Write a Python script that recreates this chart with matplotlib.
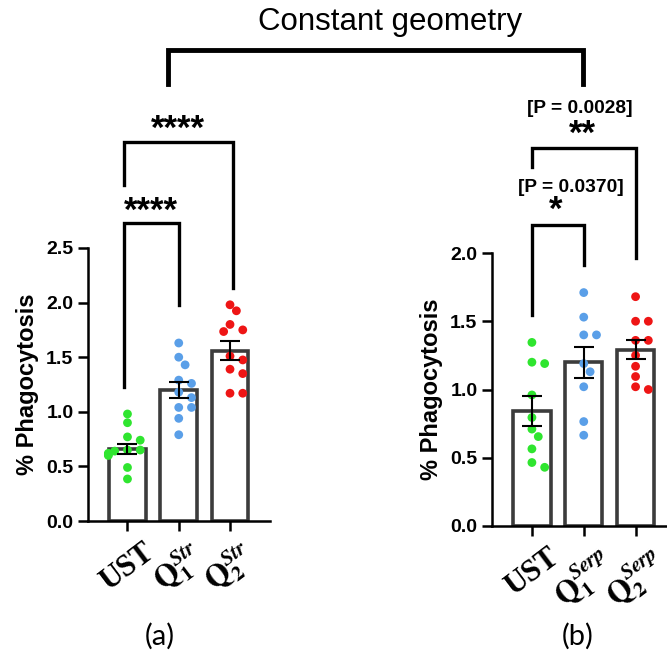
import numpy as np
import matplotlib
matplotlib.use("Agg")
import matplotlib.pyplot as plt

plt.rcParams['font.family'] = ['Liberation Sans', 'DejaVu Sans']
plt.rcParams['mathtext.fontset'] = 'stix'

# --- data ---
groups_a = ['UST', r'$\mathbf{Q}_{\mathbf{1}}^{\mathbfit{Str}}$', r'$\mathbf{Q}_{\mathbf{2}}^{\mathbfit{Str}}$']
groups_b = ['UST', r'$\mathbf{Q}_{\mathbf{1}}^{\mathbfit{Serp}}$', r'$\mathbf{Q}_{\mathbf{2}}^{\mathbfit{Serp}}$']

means_a = [0.66, 1.20, 1.56]
sem_a = [0.045, 0.07, 0.085]
pts_a = [
    [0.98, 0.90, 0.77, 0.74, 0.65, 0.65, 0.64, 0.62, 0.61, 0.60, 0.49, 0.385],
    [1.63, 1.50, 1.43, 1.29, 1.26, 1.18, 1.13, 1.04, 1.04, 0.94, 0.79],
    [1.98, 1.925, 1.80, 1.75, 1.735, 1.51, 1.475, 1.39, 1.35, 1.17, 1.17],
]

means_b = [0.84, 1.20, 1.29]
sem_b = [0.11, 0.115, 0.07]
pts_b = [
    [1.345, 1.20, 1.19, 0.96, 0.795, 0.71, 0.655, 0.565, 0.465, 0.43],
    [1.71, 1.53, 1.40, 1.40, 1.19, 1.13, 1.02, 0.765, 0.665],
    [1.68, 1.50, 1.50, 1.36, 1.36, 1.25, 1.17, 1.095, 1.02, 1.0],
]

colors = ['#2fe52f', '#5a9fe8', '#ee1515']

W, H = 667, 656
fig = plt.figure(figsize=(W / 100, H / 100), dpi=100)


def px_axes(left, right, bottom, top):
    return fig.add_axes([left / W, 1 - bottom / H, (right - left) / W, (bottom - top) / H])


def swarm(ax, vals, xc, diam=8.5):
    # place dots in rows like GraphPad: try centre, then sides
    placed = []
    xs = []
    for v in vals:
        for k in [0, 1, -1, 2, -2, 3, -3]:
            off = k * diam * 0.75
            px, py = ax.transData.transform((xc, v))
            px += off
            if all((px - qx) ** 2 + (py - qy) ** 2 >= diam ** 2 for qx, qy in placed):
                break
        placed.append((px, py))
        xs.append(ax.transData.inverted().transform((px, py))[0])
    return xs


def panel(ax, means, sems, pts, labels, ymax, yticks):
    ax.set_xlim(-0.77, 2.78)
    ax.set_ylim(0, ymax)
    x = np.arange(3)
    ax.bar(x, means, width=0.72, color='white', edgecolor='#3c3c3c', linewidth=2.6, zorder=1)
    for i in range(3):
        xs = swarm(ax, pts[i], i)
        ax.scatter(xs, pts[i], s=40, color=colors[i], edgecolors='none', zorder=2, clip_on=False)
    ax.errorbar(x, means, yerr=sems, fmt='none', ecolor='black', elinewidth=1.5,
                capsize=7, capthick=1.5, zorder=3)
    for s in ['top', 'right']:
        ax.spines[s].set_visible(False)
    for s in ['left', 'bottom']:
        ax.spines[s].set_linewidth(1.8)
    ax.set_yticks(yticks)
    ax.set_yticklabels([f'{t:.1f}' for t in yticks], fontsize=14, fontweight='bold')
    ax.set_xticks(x)
    ax.set_xticklabels(labels, fontsize=22, fontweight='bold', family='Liberation Serif',
                       rotation=37, ha='center', va='top')
    ax.tick_params(axis='both', length=7, width=1.8)
    ax.tick_params(axis='x', pad=5)
    ax.set_ylabel('% Phagocytosis', fontsize=17, fontweight='bold', labelpad=5)


def bracket(ax, x1, x2, ytop, y1, y2):
    ax.plot([x1, x1, x2, x2], [y1, ytop, ytop, y2], color='black', lw=2.4,
            clip_on=False, solid_joinstyle='miter', zorder=4)


# panel (a)
axa = px_axes(88, 270, 521, 248)
panel(axa, means_a, sem_a, pts_a, groups_a, 2.5, [0, 0.5, 1.0, 1.5, 2.0, 2.5])
bracket(axa, -0.07, 1, 2.73, 1.23, 1.98)
bracket(axa, -0.07, 2.05, 3.47, 3.08, 2.13)
axa.text(0.45, 2.84, '****', fontsize=25, fontweight='bold', ha='center', va='center')
axa.text(0.98, 3.59, '****', fontsize=25, fontweight='bold', ha='center', va='center')

# panel (b)
axb = px_axes(492, 676, 526, 253)
panel(axb, means_b, sem_b, pts_b, groups_b, 2.0, [0, 0.5, 1.0, 1.5, 2.0])
bracket(axb, 0, 1, 2.205, 1.546, 1.912)
bracket(axb, 0, 2, 2.77, 2.63, 1.963)
axb.text(0.75, 2.48, '[P = 0.0370]', fontsize=13.8, fontweight='bold', ha='center', va='center')
axb.text(0.46, 2.31, '*', fontsize=25, fontweight='bold', ha='center', va='center')
axb.text(0.93, 3.06, '[P = 0.0028]', fontsize=13.8, fontweight='bold', ha='center', va='center')
axb.text(0.97, 2.87, '**', fontsize=25, fontweight='bold', ha='center', va='center')

# constant geometry bracket
fig.add_artist(plt.Line2D([168 / W, 168 / W, 583 / W, 583 / W],
                          [1 - 84 / H, 1 - 50 / H, 1 - 50 / H, 1 - 84 / H],
                          color='black', lw=3.5, solid_joinstyle='miter'))
fig.text(390 / W, 1 - 22 / H, 'Constant geometry', fontsize=22.5, ha='center', va='center')

fig.text(160 / W, 1 - 636 / H, '(a)', fontsize=21, ha='center', va='center', family='Lato')
fig.text(578 / W, 1 - 636 / H, '(b)', fontsize=21, ha='center', va='center', family='Lato')

fig.savefig('out.png', dpi=100)
